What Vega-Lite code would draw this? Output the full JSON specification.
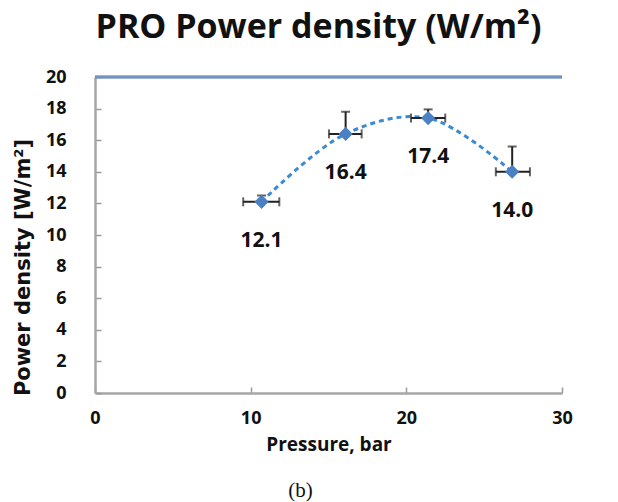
{
  "$schema": "https://vega.github.io/schema/vega-lite/v6.json",
  "width": 467,
  "height": 316,
  "autosize": "none",
  "padding": {"left": 95, "top": 77, "right": 56, "bottom": 109},
  "background": "white",
  "config": {
    "view": {"stroke": null},
    "axis": {"grid": false}
  },
  "title": {
    "text": "PRO Power density (W/m²)",
    "font": "Open Sans",
    "fontSize": 34,
    "fontWeight": "bold",
    "color": "#111111",
    "anchor": "middle",
    "frame": "group",
    "dx": -10,
    "offset": 23
  },
  "data": {
    "values": [
      {"p": 10.7, "pd": 12.1, "xlo": 9.52, "xhi": 11.84, "yhi": 12.5, "label": "12.1"},
      {"p": 16.1, "pd": 16.4, "xlo": 15.03, "xhi": 17.13, "yhi": 17.8, "label": "16.4"},
      {"p": 21.4, "pd": 17.4, "xlo": 20.3, "xhi": 22.5, "yhi": 17.95, "label": "17.4"},
      {"p": 26.8, "pd": 14.0, "xlo": 25.75, "xhi": 27.94, "yhi": 15.6, "label": "14.0"}
    ]
  },
  "resolve": {"axis": {"x": "independent", "y": "independent"}},
  "layer": [
    {
      "mark": {"type": "rule", "color": "#7393c0", "strokeWidth": 2.5},
      "encoding": {
        "y": {"datum": 20, "type": "quantitative", "scale": {"domain": [0, 20], "nice": false}, "axis": null}
      }
    },
    {
      "mark": {"type": "line", "interpolate": "catmull-rom", "color": "#3a8ad4", "strokeWidth": 3, "strokeDash": [5, 4]},
      "encoding": {
        "x": {
          "field": "p", "type": "quantitative",
          "scale": {"domain": [0, 30], "nice": false},
          "axis": {
            "orient": "bottom",
            "values": [0, 10, 20, 30],
            "labelOverlap": false,
            "title": "Pressure, bar",
            "titleFont": "Open Sans", "titleFontSize": 19, "titleFontWeight": "bold", "titleColor": "#111111",
            "titlePadding": 8,
            "labelFont": "Open Sans", "labelFontSize": 18, "labelFontWeight": "bold", "labelColor": "#111111",
            "labelPadding": 22,
            "labelFlush": false,
            "tickSize": -6, "tickColor": "#999999", "tickWidth": 1.5,
            "domainColor": "#a6a6a6", "domainWidth": 2.5
          }
        },
        "y": {
          "field": "pd", "type": "quantitative",
          "axis": {
            "orient": "left",
            "values": [0, 2, 4, 6, 8, 10, 12, 14, 16, 18, 20],
            "labelOverlap": false,
            "title": "Power density [W/m²]",
            "titleFont": "DejaVu Sans", "titleFontSize": 21, "titleFontWeight": "bold", "titleColor": "#111111",
            "titleX": -62, "titleY": 190,
            "labelFont": "Open Sans", "labelFontSize": 18, "labelFontWeight": "bold", "labelColor": "#111111",
            "labelPadding": 35,
            "labelFlush": false,
            "tickSize": -6, "tickColor": "#999999", "tickWidth": 1.5,
            "domainColor": "#a6a6a6", "domainWidth": 2.5
          }
        }
      }
    },
    {
      "mark": {"type": "rule", "color": "#222222", "strokeWidth": 2},
      "encoding": {
        "x": {"field": "xlo", "type": "quantitative", "axis": null},
        "x2": {"field": "xhi"},
        "y": {"field": "pd", "type": "quantitative", "axis": null}
      }
    },
    {
      "mark": {"type": "rule", "color": "#222222", "strokeWidth": 2},
      "encoding": {
        "x": {"field": "p", "type": "quantitative", "axis": null},
        "y": {"field": "pd", "type": "quantitative", "axis": null},
        "y2": {"field": "yhi"}
      }
    },
    {
      "mark": {"type": "tick", "orient": "vertical", "color": "#222222", "size": 9, "thickness": 2},
      "encoding": {
        "x": {"field": "xlo", "type": "quantitative", "axis": null},
        "y": {"field": "pd", "type": "quantitative", "axis": null}
      }
    },
    {
      "mark": {"type": "tick", "orient": "vertical", "color": "#222222", "size": 9, "thickness": 2},
      "encoding": {
        "x": {"field": "xhi", "type": "quantitative", "axis": null},
        "y": {"field": "pd", "type": "quantitative", "axis": null}
      }
    },
    {
      "mark": {"type": "tick", "orient": "horizontal", "color": "#222222", "size": 9, "thickness": 2},
      "encoding": {
        "x": {"field": "p", "type": "quantitative", "axis": null},
        "y": {"field": "yhi", "type": "quantitative", "axis": null}
      }
    },
    {
      "mark": {"type": "point", "shape": "diamond", "filled": true, "color": "#4a80c4", "size": 200, "opacity": 1},
      "encoding": {
        "x": {"field": "p", "type": "quantitative", "axis": null},
        "y": {"field": "pd", "type": "quantitative", "axis": null}
      }
    },
    {
      "mark": {"type": "text", "font": "Open Sans", "fontSize": 21, "fontWeight": "bold", "color": "#111111", "baseline": "alphabetic", "align": "center", "dy": 45},
      "encoding": {
        "x": {
          "field": "p", "type": "quantitative",
          "axis": {
            "orient": "bottom",
            "title": "(b)",
            "titleFont": "Liberation Serif", "titleFontSize": 21, "titleFontWeight": "normal", "titleColor": "#111111",
            "titlePadding": 86,
            "titleX": 205,
            "labels": false, "ticks": false, "domain": false
          }
        },
        "y": {"field": "pd", "type": "quantitative", "axis": null},
        "text": {"field": "label"}
      }
    }
  ]
}
